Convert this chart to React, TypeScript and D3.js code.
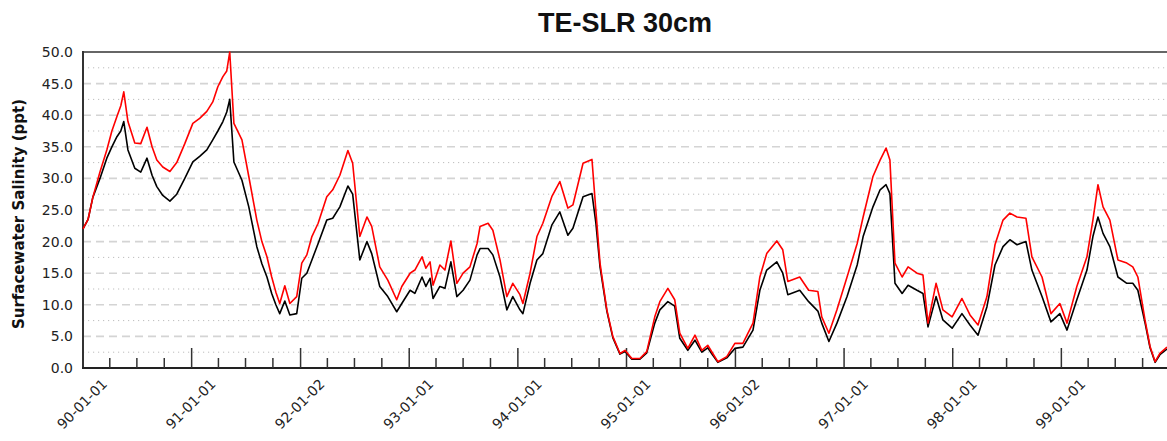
import React, { useRef, useEffect } from 'react'
import * as d3 from 'd3'

// sample dates shared by both series
const dates = [
  '1990-01-01', '1990-01-18', '1990-02-03', '1990-02-27', '1990-03-22', '1990-04-08', '1990-04-25', '1990-05-08',
  '1990-05-18', '1990-06-01', '1990-06-24', '1990-07-14', '1990-08-04', '1990-08-21', '1990-09-06', '1990-09-26',
  '1990-10-20', '1990-11-12', '1990-12-09', '1991-01-05', '1991-01-28', '1991-02-21', '1991-03-13', '1991-03-30',
  '1991-04-16', '1991-04-29', '1991-05-09', '1991-05-23', '1991-06-19', '1991-07-12', '1991-08-08', '1991-08-25',
  '1991-09-11', '1991-09-27', '1991-10-11', '1991-10-24', '1991-11-10', '1991-11-27', '1991-12-20', '1992-01-06',
  '1992-01-23', '1992-02-09', '1992-03-01', '1992-03-30', '1992-04-19', '1992-05-13', '1992-06-09', '1992-06-25',
  '1992-07-19', '1992-08-12', '1992-08-28', '1992-09-24', '1992-10-21', '1992-11-20', '1992-12-07', '1993-01-04',
  '1993-01-20', '1993-02-13', '1993-02-26', '1993-03-12', '1993-03-22', '1993-04-14', '1993-05-01', '1993-05-21',
  '1993-06-10', '1993-07-01', '1993-07-24', '1993-08-17', '1993-08-27', '1993-09-23', '1993-10-09', '1993-11-02',
  '1993-11-25', '1993-12-15', '1994-01-08', '1994-01-18', '1994-02-11', '1994-03-06', '1994-03-26', '1994-04-25',
  '1994-05-22', '1994-06-18', '1994-07-05', '1994-08-08', '1994-09-07', '1994-09-20', '1994-10-04', '1994-10-27',
  '1994-11-16', '1994-12-10', '1994-12-27', '1995-01-19', '1995-02-15', '1995-03-10', '1995-04-06', '1995-04-23',
  '1995-05-20', '1995-06-12', '1995-06-29', '1995-07-26', '1995-08-19', '1995-09-11', '1995-10-01', '1995-10-18',
  '1995-11-04', '1995-12-04', '1995-12-31', '1996-01-27', '1996-03-01', '1996-03-24', '1996-04-16', '1996-05-20',
  '1996-06-09', '1996-06-26', '1996-08-05', '1996-09-04', '1996-10-05', '1996-10-18', '1996-11-11', '1996-12-08',
  '1997-01-11', '1997-02-14', '1997-03-06', '1997-04-08', '1997-05-02', '1997-05-22', '1997-06-04', '1997-06-21',
  '1997-07-15', '1997-08-04', '1997-09-03', '1997-09-23', '1997-10-10', '1997-11-06', '1997-11-29', '1997-12-30',
  '1998-02-01', '1998-02-28', '1998-03-27', '1998-04-26', '1998-05-23', '1998-06-19', '1998-07-12', '1998-08-05',
  '1998-09-04', '1998-09-24', '1998-10-28', '1998-11-27', '1998-12-27', '1999-01-20', '1999-02-22', '1999-03-28',
  '1999-04-17', '1999-05-04', '1999-05-21', '1999-06-13', '1999-07-10', '1999-08-09', '1999-08-29', '1999-09-15',
  '1999-10-09', '1999-10-26', '1999-11-12', '1999-11-28', '1999-12-22'
]

// red series (sea level rise 30cm)
const slrSalinity = [
  22, 23.5, 27, 31, 34.5, 37.5, 39.8, 41.5,
  43.7, 39, 35.6, 35.5, 38.1, 35, 32.9, 31.8,
  31.1, 32.5, 35.5, 38.7, 39.5, 40.6, 42.1, 44.5,
  46.1, 47, 50, 38.7, 36.1, 30.3, 23.4, 20,
  17.6, 14.4, 12, 10.2, 13, 10.2, 11.3, 16.6,
  17.9, 20.8, 22.9, 27.1, 28.2, 30.5, 34.4, 32.4,
  20.8, 23.9, 22.4, 16, 13.9, 10.8, 12.9, 15,
  15.5, 17.6, 15.8, 16.8, 13.1, 16.3, 15.5, 20.1,
  13.4, 15, 16, 19.7, 22.4, 22.9, 21.8, 17.1,
  11.3, 13.4, 11.6, 10.2, 15, 20.8, 22.9, 27.1,
  29.5, 25.3, 25.8, 32.4, 33, 25, 16.6, 9.2,
  5, 2.3, 2.8, 1.5, 1.5, 2.6, 8.1, 10.5,
  12.6, 10.8, 5.5, 3.1, 5.2, 2.8, 3.6, 2.3,
  1, 1.8, 3.9, 3.9, 7.1, 14.4, 18.1, 20.1,
  18.7, 13.7, 14.4, 12.3, 12.1, 8.1, 5.5, 9.2,
  14.4, 19.7, 23.9, 30.3, 32.9, 34.8, 32.9, 16.6,
  14.4, 16, 15, 14.7, 7.1, 13.4, 9.2, 8.1,
  11, 8.4, 6.8, 11.3, 19.5, 23.4, 24.5, 23.9,
  23.7, 17.6, 14.4, 8.6, 10.2, 7.1, 12.9, 17.6,
  23.4, 29, 25.5, 23.4, 17.1, 16.6, 16, 14.4,
  7.6, 3.4, 1, 2.3, 3.3
]

// black series (base run)
const baseSalinity = [
  22, 23.5, 27, 30, 33.2, 35, 36.6, 37.5,
  39, 34.5, 31.6, 31, 33.2, 30.5, 28.7, 27.3,
  26.4, 27.5, 30, 32.6, 33.5, 34.5, 36.1, 37.5,
  39, 40.5, 42.5, 32.6, 29.7, 25.5, 19.2, 16.5,
  14.4, 11.8, 10, 8.6, 10.6, 8.4, 8.6, 14.2,
  15, 17.1, 19.7, 23.4, 23.7, 25.5, 28.8, 27.5,
  17.1, 20, 18.1, 12.9, 11.3, 8.9, 10.2, 12.3,
  11.8, 14.4, 12.9, 14.2, 11, 12.9, 12.6, 16.8,
  11.3, 12.3, 13.9, 17.9, 18.9, 18.9, 17.9, 14.4,
  9.2, 11.3, 9.2, 8.6, 13.4, 17.1, 18.1, 22.6,
  24.7, 21, 22.1, 27.1, 27.6, 23, 16, 9,
  4.8, 2.2, 2.6, 1.4, 1.4, 2.4, 7.1, 9.2,
  10.5, 9.8, 4.7, 2.8, 4.4, 2.5, 3.2, 2,
  0.9, 1.6, 3.1, 3.3, 6, 12.3, 15.5, 16.8,
  15, 11.6, 12.3, 10.5, 9, 7.1, 4.2, 7.1,
  11.3, 16.3, 20.8, 25.5, 28.2, 29, 27.6, 13.4,
  11.8, 13.1, 12.3, 11.8, 6.5, 11.3, 7.6, 6.3,
  8.6, 6.8, 5.2, 9.7, 16.3, 19.2, 20.3, 19.5,
  20, 15.5, 11.3, 7.3, 8.6, 6, 10.8, 15.5,
  20.8, 23.9, 21.3, 19.2, 14.4, 13.4, 13.4, 12.3,
  7.2, 3.2, 0.9, 2.1, 3
]

const yTicks = [0, 5, 10, 15, 20, 25, 30, 35, 40, 45, 50]
const tickDates = [
  '1990-01-01', '1991-01-01', '1992-01-02', '1993-01-01', '1994-01-01',
  '1995-01-01', '1996-01-02', '1997-01-01', '1998-01-01', '1999-01-01'
]
const tickLabels = [
  '90-01-01', '91-01-01', '92-01-02', '93-01-01', '94-01-01',
  '95-01-01', '96-01-02', '97-01-01', '98-01-01', '99-01-01'
]

const App = () => {
  const node = useRef(null)

  useEffect(() => {
    const width = 1167
    const height = 441
    const margin = { top: 52, left: 83, bottom: 73 }
    const parse = d3.timeParse('%Y-%m-%d')

    const svg = d3.select(node.current)
    svg.selectAll('*').remove()
    svg.attr('width', width).attr('height', height)

    const x = d3
      .scaleTime()
      .domain([parse('1990-01-01'), parse('2000-01-01')])
      .range([margin.left, 1170])
    const y = d3
      .scaleLinear()
      .domain([0, 50])
      .range([height - margin.bottom, margin.top])

    const bottom = height - margin.bottom

    // grid: dashed at whole 5s, dotted in between
    const grid = svg.append('g')
    d3.range(2.5, 50, 2.5).forEach((v) => {
      const major = v % 5 === 0
      grid
        .append('line')
        .attr('x1', margin.left)
        .attr('x2', width)
        .attr('y1', y(v))
        .attr('y2', y(v))
        .attr('stroke', major ? '#d4d4d4' : '#bdbdbd')
        .attr('stroke-width', major ? 1.6 : 1)
        .attr('stroke-dasharray', major ? '8,5' : '1.2,3.8')
    })

    // frame
    svg.append('line').attr('x1', margin.left).attr('x2', width).attr('y1', margin.top).attr('y2', margin.top)
      .attr('stroke', '#666').attr('stroke-width', 2)
    svg.append('line').attr('x1', margin.left).attr('x2', margin.left).attr('y1', margin.top - 1).attr('y2', bottom + 1)
      .attr('stroke', '#333').attr('stroke-width', 2)
    svg.append('line').attr('x1', margin.left - 1).attr('x2', width).attr('y1', bottom).attr('y2', bottom)
      .attr('stroke', '#222').attr('stroke-width', 2)

    // minor ticks every quarter
    const majors = tickDates.map(parse)
    const minors = d3.timeMonth
      .every(3)
      .range(parse('1990-02-01'), parse('2000-01-01'))
      .filter((d) => d.getMonth() !== 0)
    svg.append('g').selectAll('line').data(minors).join('line')
      .attr('x1', (d) => x(d)).attr('x2', (d) => x(d))
      .attr('y1', bottom).attr('y2', bottom - 10)
      .attr('stroke', '#333').attr('stroke-width', 1.5)
    svg.append('g').selectAll('line').data(majors.slice(1)).join('line')
      .attr('x1', (d) => x(d)).attr('x2', (d) => x(d))
      .attr('y1', bottom).attr('y2', bottom - 20)
      .attr('stroke', '#333').attr('stroke-width', 1.5)

    // x labels
    svg.append('g').selectAll('text').data(majors).join('text')
      .attr('transform', (d) => `translate(${x(d) + 25},${bottom + 17}) rotate(-45)`)
      .attr('text-anchor', 'end')
      .attr('font-family', 'DejaVu Sans, sans-serif')
      .attr('font-size', 14)
      .attr('fill', '#222')
      .text((d, i) => tickLabels[i])

    // y labels
    svg.append('g').selectAll('text').data(yTicks).join('text')
      .attr('x', 73)
      .attr('y', (d) => y(d))
      .attr('dy', '0.36em')
      .attr('text-anchor', 'end')
      .attr('font-family', 'DejaVu Sans, sans-serif')
      .attr('font-size', 14)
      .attr('fill', '#222')
      .text((d) => d.toFixed(1))

    svg.append('text')
      .attr('transform', `translate(24,214) rotate(-90)`)
      .attr('text-anchor', 'middle')
      .attr('font-family', 'DejaVu Sans, sans-serif')
      .attr('font-weight', 'bold')
      .attr('font-size', 15)
      .attr('fill', '#111')
      .text('Surfacewater Salinity (ppt)')

    // title centred over the plot area
    svg.append('text')
      .attr('x', (margin.left + width) / 2)
      .attr('y', 32)
      .attr('text-anchor', 'middle')
      .attr('font-family', 'Liberation Sans, Arial, sans-serif')
      .attr('font-weight', 'bold')
      .attr('font-size', 27)
      .attr('fill', '#111')
      .text('TE-SLR 30cm')

    const rows = (vals) => dates.map((d, i) => ({ date: parse(d), v: vals[i] }))
    const line = d3
      .line()
      .x((d) => x(d.date))
      .y((d) => y(d.v))

    svg.append('path').attr('d', line(rows(baseSalinity)))
      .attr('fill', 'none').attr('stroke', '#000').attr('stroke-width', 1.6).attr('stroke-linejoin', 'round')
    svg.append('path').attr('d', line(rows(slrSalinity)))
      .attr('fill', 'none').attr('stroke', '#ff0000').attr('stroke-width', 1.6).attr('stroke-linejoin', 'round')
  }, [node])

  return <svg ref={node} style={{ position: 'absolute', left: 0, top: 0 }}></svg>
}

export default App
